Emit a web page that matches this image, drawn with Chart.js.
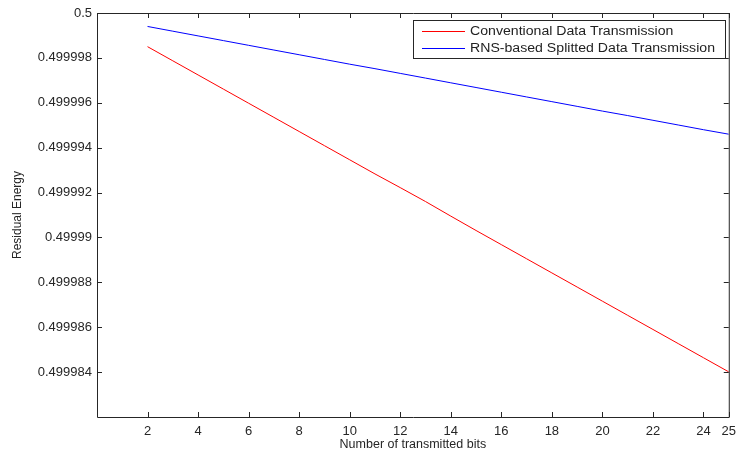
<!DOCTYPE html>
<html>
<head>
  <script src="https://cdn.jsdelivr.net/npm/chart.js@4/dist/chart.umd.min.js"></script>
  <style>body { margin: 0; background: #fff; }</style>
</head>
<body>
  <div id="chart" style="position:relative; width:743px; height:457px">
    <canvas id="c" width="743" height="457"></canvas>
  </div>
  <script>
    // number of transmitted bits
    var bits = [2, 3, 4, 5, 6, 7, 8, 9, 10, 11, 12, 13, 14, 15, 16, 17, 18, 19, 20, 21, 22, 23, 24, 25];
    // residual energy
    var conventional = [0.49999850, 0.49999787, 0.49999724, 0.49999661, 0.49999598, 0.49999535, 0.49999472,
      0.49999409, 0.49999346, 0.49999283, 0.49999222, 0.49999160, 0.49999095, 0.49999031, 0.49998968,
      0.49998905, 0.49998842, 0.49998779, 0.49998716, 0.49998653, 0.49998590, 0.49998527, 0.49998464, 0.49998401];
    var rnsSplit = [0.49999940, 0.49999919, 0.49999898, 0.49999877, 0.49999856, 0.49999835, 0.49999814,
      0.49999793, 0.49999772, 0.49999752, 0.49999731, 0.49999710, 0.49999689, 0.49999668, 0.49999647,
      0.49999626, 0.49999605, 0.49999584, 0.49999563, 0.49999543, 0.49999522, 0.49999501, 0.49999480, 0.49999460];
    var seriesNames = ['Conventional Data Transmission', 'RNS-based Splitted Data Transmission'];
    var xTicks = [2, 4, 6, 8, 10, 12, 14, 16, 18, 20, 22, 24, 25];
    var yTicks = ['0.5', '0.499998', '0.499996', '0.499994', '0.499992', '0.49999', '0.499988', '0.499986', '0.499984'];

    Chart.defaults.font.family = "'Liberation Sans', Arial, sans-serif";
    Chart.defaults.font.size = 13;
    Chart.defaults.color = '#262626';

    function toPoints(ys) {
      return bits.map(function (b, i) { return { x: b, y: ys[i] }; });
    }

    // matlab style box with inward ticks + legend box
    var framePlugin = {
      id: 'frame',
      afterDraw: function (chart) {
        var ctx = chart.ctx, a = chart.chartArea;
        var xs = chart.scales.x, ys = chart.scales.y;
        ctx.save();
        ctx.strokeStyle = '#262626';
        ctx.lineWidth = 1;
        ctx.beginPath();
        ctx.rect(a.left + 0.5, a.top + 0.5, a.right - a.left, a.bottom - a.top);
        xTicks.forEach(function (t) {
          var px = Math.round(xs.getPixelForValue(t)) + 0.5;
          ctx.moveTo(px, a.bottom); ctx.lineTo(px, a.bottom - 5);
          ctx.moveTo(px, a.top); ctx.lineTo(px, a.top + 5);
        });
        yTicks.forEach(function (t) {
          var py = Math.round(ys.getPixelForValue(parseFloat(t))) + 0.5;
          ctx.moveTo(a.left, py); ctx.lineTo(a.left + 5, py);
          ctx.moveTo(a.right, py); ctx.lineTo(a.right - 5, py);
        });
        ctx.stroke();

        // legend
        var lx = 413.5, ly = 20.5, lw = 312, lh = 38;
        ctx.fillStyle = '#fff';
        ctx.fillRect(lx, ly, lw, lh);
        ctx.strokeRect(lx, ly, lw, lh);
        ctx.font = "12px 'Liberation Sans', Arial, sans-serif";
        ctx.textBaseline = 'middle';
        var sx = 245 / ctx.measureText(seriesNames[1]).width;
        chart.data.datasets.forEach(function (ds, i) {
          var yy = 31 + i * 17;
          ctx.strokeStyle = ds.borderColor;
          ctx.beginPath();
          ctx.moveTo(422, yy + 0.5); ctx.lineTo(465, yy + 0.5);
          ctx.stroke();
          ctx.save();
          ctx.translate(470, yy + 1);
          ctx.scale(sx, 1);
          ctx.fillStyle = '#222';
          ctx.fillText(ds.label, 0, 0);
          ctx.restore();
        });
        ctx.restore();
      }
    };

    new Chart(document.getElementById('c').getContext('2d'), {
      type: 'line',
      data: {
        datasets: [
          { label: seriesNames[0], data: toPoints(conventional), borderColor: '#ff0000', borderWidth: 1, pointRadius: 0, tension: 0 },
          { label: seriesNames[1], data: toPoints(rnsSplit), borderColor: '#0000ff', borderWidth: 1, pointRadius: 0, tension: 0 }
        ]
      },
      options: {
        responsive: false,
        animation: false,
        devicePixelRatio: 1,
        layout: { padding: { top: 13, right: 9, left: 0, bottom: 0 } },
        plugins: { legend: { display: false }, tooltip: { enabled: false } },
        scales: {
          x: {
            type: 'linear', min: 0, max: 25,
            grid: { display: false, drawTicks: false },
            border: { display: false },
            afterBuildTicks: function (s) { s.ticks = xTicks.map(function (v) { return { value: v }; }); },
            ticks: { padding: 7, maxRotation: 0, autoSkip: false },
            title: { display: true, text: 'Number of transmitted bits', font: { size: 12.5 }, padding: { top: 0, bottom: 5 } },
            afterFit: function (s) { s.height = 40; }
          },
          y: {
            type: 'linear', min: 0.499982, max: 0.5,
            grid: { display: false, drawTicks: false },
            border: { display: false },
            afterBuildTicks: function (s) { s.ticks = yTicks.map(function (v) { return { value: parseFloat(v) }; }); },
            ticks: {
              padding: 5, autoSkip: false,
              callback: function (v, i) { return yTicks[i]; }
            },
            title: { display: true, text: 'Residual Energy', font: { size: 12 }, padding: { top: 10, bottom: 0 } },
            afterFit: function (s) { s.width = 97; }
          }
        }
      },
      plugins: [framePlugin]
    });
  </script>
</body>
</html>
